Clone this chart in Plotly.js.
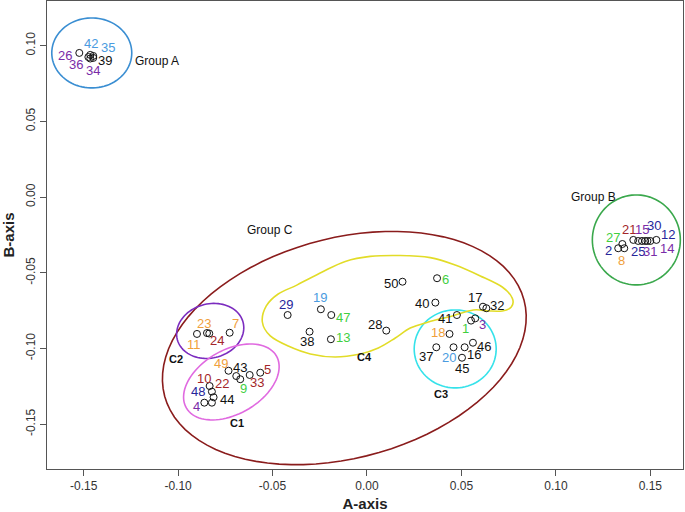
<!DOCTYPE html>
<html>
<head>
<meta charset="utf-8">
<script src="https://cdn.plot.ly/plotly-3.0.1.min.js"></script>
<style>
  body { margin: 0; background: #fff; }
  #plot { width: 685px; height: 512px; }
</style>
</head>
<body>
<div id="plot"></div>
<script>
// sample ids and their coordinates (A-axis, B-axis)
let sampleIds = [1, 2, 3, 4, 5, 6, 7, 8, 9, 10,
                 11, 12, 13, 14, 15, 16, 17, 18, 19, 20,
                 21, 22, 23, 24, 25, 26, 27, 28, 29, 30,
                 31, 32, 33, 34, 35, 36, 37, 38, 39, 40,
                 41, 42, 43, 44, 45, 46, 47, 48, 49, 50];
let aValues = [0.0551, 0.1330, 0.0573, -0.0861, -0.0565, 0.0371, -0.0727, 0.1362, -0.0671, -0.0833,
               -0.0900, 0.1532, -0.0191, 0.1500, 0.1456, 0.0517, 0.0614, 0.0437, -0.0244, 0.0458,
               0.1410, -0.0821, -0.0847, -0.0835, 0.1436, -0.1523, 0.1352, 0.0102, -0.0420, 0.1485,
               0.1473, 0.0632, -0.0621, -0.1465, -0.1449, -0.1475, 0.0367, -0.0304, -0.1449, 0.0362,
               0.0476, -0.1465, -0.0692, -0.0812, 0.0503, 0.0561, -0.0189, -0.0821, -0.0733, 0.0188];
let bValues = [-0.0816, -0.0338, -0.0801, -0.1358, -0.1160, -0.0536, -0.0896, -0.0338, -0.1203, -0.1248,
               -0.0904, -0.0283, -0.0939, -0.0290, -0.0290, -0.0992, -0.0724, -0.0904, -0.0741, -0.0992,
               -0.0283, -0.1285, -0.0898, -0.0901, -0.0290, 0.0952, -0.0310, -0.0882, -0.0779, -0.0290,
               -0.0290, -0.0734, -0.1175, 0.0915, 0.0932, 0.0925, -0.0992, -0.0889, 0.0919, -0.0697,
               -0.0779, 0.0939, -0.1182, -0.1322, -0.1061, -0.0962, -0.0779, -0.1358, -0.1147, -0.0559];
// colour class of each label
let labelClass = ['green', 'navy', 'purple', 'purple', 'red', 'green', 'orange', 'orange', 'green', 'red',
                  'orange', 'navy', 'green', 'purple', 'purple', 'black', 'black', 'orange', 'sky', 'sky',
                  'red', 'red', 'orange', 'red', 'navy', 'purple', 'green', 'black', 'navy', 'navy',
                  'purple', 'black', 'red', 'purple', 'sky', 'purple', 'black', 'black', 'black', 'black',
                  'black', 'sky', 'black', 'black', 'black', 'black', 'green', 'navy', 'orange', 'black'];

let tickVals = [-0.15, -0.10, -0.05, 0.00, 0.05, 0.10, 0.15];
let tickText = ['-0.15', '-0.10', '-0.05', '0.00', '0.05', '0.10', '0.15'];

// ---- drawing ----
var W = 685, H = 512;
var mar = {l: 47, r: 2, t: 1, b: 43};
var xr = [-0.1694, 0.1673];
var yr = [-0.1796, 0.1295];
var kx = (W - mar.l - mar.r) / (xr[1] - xr[0]);   // px per unit
var ky = (H - mar.t - mar.b) / (yr[1] - yr[0]);

var colours = {
  black: '#111111', sky: '#4a9be0', purple: '#7a2ca8', navy: '#26269a',
  red: '#a3262a', orange: '#f0a03c', green: '#3fcf3f'
};

// label offsets in px (right, down) from the point
var off = {
  1: [-6, 8], 2: [-10, 2], 3: [7, 6], 4: [-8, 4], 5: [7, -3], 6: [8, 1], 7: [6, -9], 8: [-3, 12],
  9: [3, 9], 10: [-6, -8], 11: [-3, 11], 12: [12, -5], 13: [12, -2], 14: [17, 8], 15: [0, -11],
  16: [9, 7], 17: [-8, -9], 18: [-12, -1], 19: [-1, -12], 20: [-5, 10], 21: [-4, -10], 22: [10, -8],
  23: [-3, -10], 24: [8, 7], 25: [0, 11], 26: [-14, 3], 27: [-9, -7], 28: [-11, -6], 29: [-2, -11],
  30: [7, -15], 31: [5, 11], 32: [11, -3], 33: [7, 8], 34: [3, 12], 35: [15, -8], 36: [-12, 7],
  37: [-10, 9], 38: [-3, 10], 39: [12, 3], 40: [-13, 1], 41: [-12, 3], 42: [1, -11], 43: [4, -9],
  44: [13, 2], 45: [0, 11], 46: [11, 4], 47: [12, 2], 48: [-14, -11], 49: [-8, -7], 50: [-12, 2]
};

// ellipse around a centre given in data units, radii in px, rotation in degrees
function ellipse(cx, cy, rx, ry, deg) {
  var a = deg * Math.PI / 180, p = '';
  for (var k = 0; k <= 90; k++) {
    var t = 2 * Math.PI * k / 90;
    var ex = rx * Math.cos(t), ey = ry * Math.sin(t);
    var sx = ex * Math.cos(a) - ey * Math.sin(a);
    var sy = ex * Math.sin(a) + ey * Math.cos(a);
    p += (k ? ' L' : 'M') + (cx + sx / kx).toFixed(5) + ',' + (cy + sy / ky).toFixed(5);
  }
  return p + ' Z';
}

// closed smooth curve through points (catmull-rom -> bezier)
function blob(pts) {
  var n = pts.length, p = 'M' + pts[0][0] + ',' + pts[0][1];
  for (var i = 0; i < n; i++) {
    var p0 = pts[(i - 1 + n) % n], p1 = pts[i], p2 = pts[(i + 1) % n], p3 = pts[(i + 2) % n];
    var c1 = [p1[0] + (p2[0] - p0[0]) / 6, p1[1] + (p2[1] - p0[1]) / 6];
    var c2 = [p2[0] - (p3[0] - p1[0]) / 6, p2[1] - (p3[1] - p1[1]) / 6];
    p += ' C' + c1[0].toFixed(5) + ',' + c1[1].toFixed(5) + ' ' + c2[0].toFixed(5) + ',' + c2[1].toFixed(5) +
         ' ' + p2[0] + ',' + p2[1];
  }
  return p + ' Z';
}

var c4Outline = [
  [-0.0554, -0.0825], [-0.0533, -0.0719], [-0.0470, -0.0640], [-0.0369, -0.0580], [-0.0237, -0.0495],
  [-0.0115, -0.0425], [0.0017, -0.0392], [0.0176, -0.0386], [0.0335, -0.0400], [0.0467, -0.0449],
  [0.0600, -0.0521], [0.0716, -0.0594], [0.0769, -0.0667], [0.0764, -0.0726], [0.0716, -0.0752],
  [0.0642, -0.0752], [0.0563, -0.0746], [0.0452, -0.0785], [0.0325, -0.0825], [0.0229, -0.0865],
  [0.0150, -0.0931], [0.0060, -0.0997], [-0.0035, -0.1036], [-0.0168, -0.1056], [-0.0300, -0.1036],
  [-0.0417, -0.0984], [-0.0512, -0.0917]
];

function shp(path, col) {
  return {type: 'path', xref: 'x', yref: 'y', path: path, line: {color: col, width: 1.6}, layer: 'below'};
}

var shapes = [
  shp(ellipse(-0.1457, 0.0952, 40, 35, 0), '#3a8ed2'),
  shp(ellipse(0.1426, -0.0283, 44, 45, 0), '#3aa84c'),
  shp(ellipse(-0.0120, -0.0997, 186, 110, 15), '#8a1c1c'),
  shp(ellipse(-0.0830, -0.0884, 34, 27, 15), '#7b2cbf'),
  shp(ellipse(-0.0718, -0.1221, 52, 32, 30), '#e06ae0'),
  shp(ellipse(0.0467, -0.1003, 41, 39, 0), '#36e2ea'),
  shp(blob(c4Outline), '#e2dc28')
];

var annotations = [];
for (var i = 0; i < sampleIds.length; i++) {
  var o = off[sampleIds[i]] || [8, 0];
  annotations.push({
    x: aValues[i], y: bValues[i], text: String(sampleIds[i]), showarrow: false,
    xshift: o[0], yshift: -o[1],
    font: {family: 'Arial, Liberation Sans, sans-serif', size: 13, color: colours[labelClass[i]]}
  });
}

function grp(x, y, txt, bold) {
  annotations.push({x: x, y: y, text: bold ? '<b>' + txt + '</b>' : txt, showarrow: false,
    font: {family: 'Arial, Liberation Sans, sans-serif', size: bold ? 11 : 12, color: '#111'}});
}
grp(-0.1110, 0.0899, 'Group A');
grp(0.1198, 0.0001, 'Group B');
grp(-0.0512, -0.0217, 'Group C');
grp(-0.0687, -0.1492, 'C1', true);
grp(-0.1010, -0.1072, 'C2', true);
grp(0.0393, -0.1300, 'C3', true);
grp(-0.0014, -0.1057, 'C4', true);

var trace1 = {
  x: aValues, y: bValues,
  mode: 'markers', type: 'scatter',
  marker: {symbol: 'circle-open', size: 7, color: '#111', line: {width: 1}},
  hoverinfo: 'none'
};

var axisFont = {family: 'Arial, Liberation Sans, sans-serif', size: 12, color: '#333'};

var layout = {
  width: W, height: H,
  margin: mar,
  paper_bgcolor: '#fff', plot_bgcolor: '#fff',
  showlegend: false,
  hovermode: false,
  xaxis: {
    range: xr, autorange: false,
    tickvals: tickVals, ticktext: tickText, tickfont: axisFont,
    ticks: 'outside', ticklen: 6, tickcolor: '#555',
    showline: true, mirror: true, linecolor: '#555', linewidth: 1,
    showgrid: false, zeroline: false,
    title: {text: '<b>A-axis</b>', standoff: 6,
            font: {family: 'Arial, Liberation Sans, sans-serif', size: 15, color: '#222'}}
  },
  yaxis: {
    range: yr, autorange: false,
    tickvals: tickVals, ticktext: tickText, tickfont: axisFont, tickangle: -90,
    ticks: 'outside', ticklen: 6, tickcolor: '#555',
    showline: true, mirror: true, linecolor: '#555', linewidth: 1,
    showgrid: false, zeroline: false,
    title: {text: '<b>B-axis</b>', standoff: 6,
            font: {family: 'Arial, Liberation Sans, sans-serif', size: 15, color: '#222'}}
  },
  shapes: shapes,
  annotations: annotations
};

Plotly.newPlot('plot', [trace1], layout, {displayModeBar: false, staticPlot: true});
</script>
</body>
</html>
